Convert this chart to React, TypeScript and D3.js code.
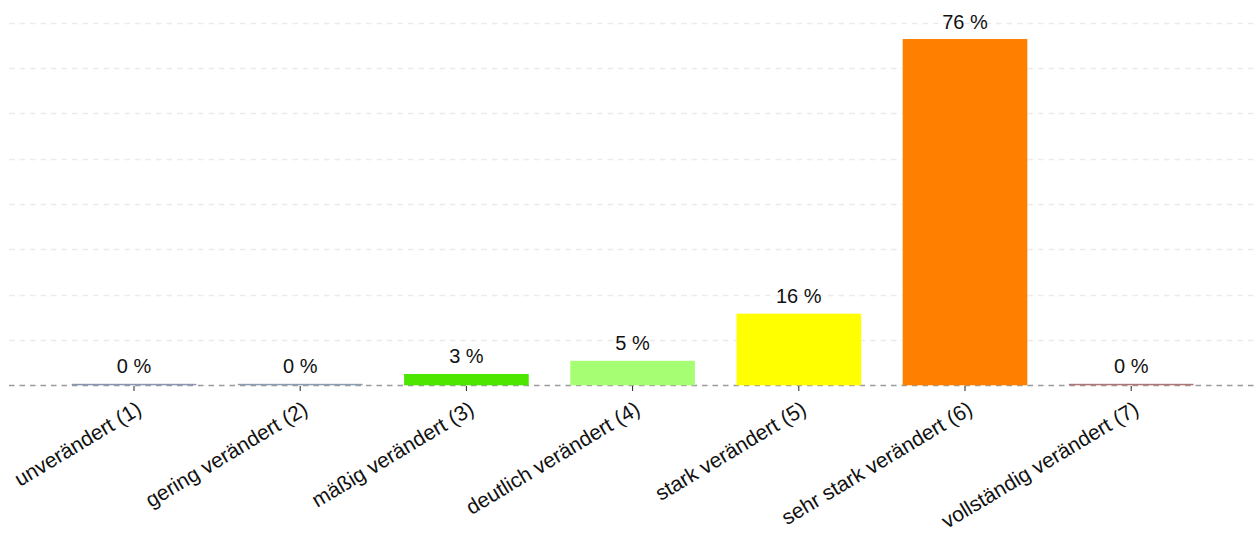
import React from "react";
import * as d3 from "d3";

const categories = [
  "unverändert (1)",
  "gering verändert (2)",
  "mäßig verändert (3)",
  "deutlich verändert (4)",
  "stark verändert (5)",
  "sehr stark verändert (6)",
  "vollständig verändert (7)",
];
const values = [0, 0, 2.5, 5.4, 15.8, 76.4, 0];
const valueLabels = ["0 %", "0 %", "3 %", "5 %", "16 %", "76 %", "0 %"];
const colors = ["#8a95b2", "#8a9db2", "#4de600", "#a6ff73", "#ffff00", "#ff8000", "#b07575"];
const gridTicks = [0, 10, 20, 30, 40, 50, 60, 70, 80];

const W = 1254;
const H = 536;

export default function App() {
  const x = d3
    .scaleBand<string>()
    .domain(categories)
    .range([50.9, 1214.3])
    .paddingInner(0.25)
    .paddingOuter(0.125);
  const y = d3.scaleLinear().domain([0, 80]).range([385.3, 22.7]);
  const font = "'Liberation Sans', Arial, sans-serif";

  return (
    <svg
      width={W}
      height={H}
      style={{ position: "absolute", left: 0, top: 0, background: "#fff" }}
    >
      {gridTicks.map((t) => (
        <line
          key={t}
          x1={9}
          x2={W}
          y1={Math.round(y(t)) + 0.5}
          y2={Math.round(y(t)) + 0.5}
          stroke={t === 0 ? "#9a9a9a" : "#ebebeb"}
          strokeWidth={1.5}
          strokeDasharray="5.5,5"
        />
      ))}
      {categories.map((c, i) => {
        const bx = x(c)!;
        const top = y(values[i]);
        const h = Math.max(y(0) - top, 1.5);
        return (
          <rect
            key={c}
            x={bx}
            y={y(0) - h}
            width={x.bandwidth()}
            height={h}
            fill={colors[i]}
          />
        );
      })}
      {categories.map((c) => {
        const cx = x(c)! + x.bandwidth() / 2;
        return (
          <line
            key={"t" + c}
            x1={cx}
            x2={cx}
            y1={386}
            y2={391}
            stroke="#222"
            strokeWidth={1}
          />
        );
      })}
      {categories.map((c, i) => {
        const cx = x(c)! + x.bandwidth() / 2;
        return (
          <text
            key={"v" + c}
            x={cx}
            y={Math.min(y(values[i]), y(0) - 1.5) - 10.5}
            textAnchor="middle"
            fontFamily={font}
            fontSize={20}
            fill="#111"
          >
            {valueLabels[i]}
          </text>
        );
      })}
      {categories.map((c) => {
        const cx = x(c)! + x.bandwidth() / 2;
        return (
          <text
            key={"l" + c}
            transform={`translate(${cx + 9},${413}) rotate(-31)`}
            textAnchor="end"
            fontFamily={font}
            fontSize={21}
            fill="#111"
          >
            {c}
          </text>
        );
      })}
    </svg>
  );
}
